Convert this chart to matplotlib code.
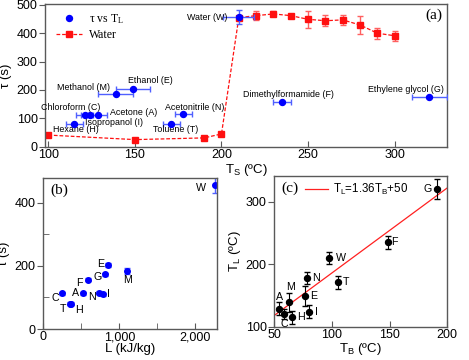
import numpy as np
import matplotlib
matplotlib.use('Agg')
import matplotlib.pyplot as plt
from matplotlib.ticker import FuncFormatter, MultipleLocator
from matplotlib.lines import Line2D

plt.rcParams['font.family'] = 'Liberation Sans'
plt.rcParams['mathtext.fontset'] = 'custom'
plt.rcParams['mathtext.rm'] = 'Liberation Serif'
plt.rcParams['mathtext.sf'] = 'Liberation Sans'

# ---- data ----
codes = ['H', 'C', 'I', 'A', 'M', 'E', 'T', 'N', 'W', 'F', 'G']
names = ['Hexane (H)', 'Chloroform (C)', 'Isopropanol (I)', 'Acetone (A)', 'Methanol (M)',
         'Ethanol (E)', 'Toluene (T)', 'Acetonitrile (N)', 'Water (W)',
         'Dimethylformamide (F)', 'Ethylene glycol (G)']
TL = [115, 121, 124, 129, 139, 149, 171, 178, 210, 235, 320]      # Leidenfrost temp (C)
TL_err_a = [5, 5, 5, 5, 10, 10, 5, 5, 9, 5, 10]
TL_err_c = [10, 8, 10, 10, 15, 16, 10, 10, 10, 10, 16]
tau = [80, 113, 110, 113, 185, 203, 80, 115, 456, 157, 174]        # lifetime (s)
tau_err = [5, 5, 5, 5, 10, 5, 5, 5, 25, 5, 5]
L = [365, 250, 779, 518, 1100, 849, 351, 728, 2257, 583, 806]      # latent heat (kJ/kg)
TB = [65.6, 58.7, 80.4, 54.3, 63, 76.6, 105.5, 78.6, 97.2, 148.4, 190.8]  # boiling temp (C)

# water vs surface temperature
Ts_w = [100, 150, 190, 200, 210, 220, 230, 240, 250, 260, 270, 280, 290, 300]
tau_w = [41, 25, 31, 45, 455, 462, 468, 462, 449, 444, 447, 429, 400, 391]
tau_w_err = [0, 0, 0, 0, 0, 17, 9, 5, 30, 20, 18, 30, 19, 18]

# linear fit T_L = 1.36 T_B + 50
fit_slope = 1.36
fit_icpt = 50
fit_x = np.array([45, 200])

# ---- label offsets (points) ----
off_a = {'H': (1.4, -4.3), 'C': (-10.3, 4.8), 'I': (17.1, -4.8), 'A': (25.2, 1.2),
         'M': (-23.2, 4.5), 'E': (12.6, 6), 'T': (3, -4.3), 'N': (8, 4.6),
         'W': (-22.5, 0), 'F': (4.7, 5.5), 'G': (-17, 5.5)}
off_b = {'H': (5.8, -4.3), 'C': (-5.3, -3.6), 'I': (4.5, 0), 'A': (-5, 0), 'M': (0.5, -7),
         'E': (-5.3, 0.7), 'T': (-4.8, -3.6), 'N': (-4.7, -3.2), 'W': (-9.8, -1.9),
         'F': (-6, -2.2), 'G': (-5.3, -2.4)}
off_c = {'H': (6, 0), 'C': (0, -7.2), 'I': (4.8, 0), 'A': (0, 8.4), 'M': (1, 11.1),
         'E': (6, 0), 'T': (5.5, 0), 'N': (6.3, 0), 'W': (8.9, 0), 'F': (4.8, 0), 'G': (-6.5, 0)}

spine_col = '0.35'
W, H = 469, 360
fig = plt.figure(figsize=(W / 100, H / 100), dpi=100)

def px_axes(x0, y0, x1, y1):
    return fig.add_axes([x0 / W, 1 - y1 / H, (x1 - x0) / W, (y1 - y0) / H])

def style(ax):
    for s in ax.spines.values():
        s.set_color(spine_col)
        s.set_linewidth(1.0)
    ax.tick_params(which='both', color=spine_col, labelsize=9, pad=1.5)
    ax.tick_params(axis='x', which='both', direction='in', length=4)
    ax.tick_params(axis='y', which='major', direction='out', length=4)
    ax.tick_params(axis='y', which='minor', direction='in', length=4)

# ---- panel (a) ----
ax1 = px_axes(45.3, 4, 446.7, 146.7)
style(ax1)
ax1.errorbar(Ts_w, tau_w, yerr=tau_w_err, fmt='s', color='#ff1010', ms=4.3,
             ecolor='#ff6060', elinewidth=1, capsize=2.4, ls=(0, (3, 1.5)), lw=0.9, zorder=2)
ax1.errorbar(TL, tau, xerr=TL_err_a, yerr=[0 if c != 'W' else e for c, e in zip(codes, tau_err)],
             fmt='o', color='#0000ff', ms=4.3, ecolor='#5060ff', elinewidth=1,
             capsize=2.4, ls='none', zorder=3)
for c, n, x, y in zip(codes, names, TL, tau):
    ax1.annotate(n, (x, y), xytext=off_a[c], textcoords='offset points',
                 ha='center', va='center', fontsize=6.4)
ax1.set_xlim(98.3, 330)
ax1.set_ylim(0, 503)
ax1.xaxis.set_major_locator(MultipleLocator(50))
ax1.yaxis.set_major_locator(MultipleLocator(100))
ax1.set_xlabel(r'$\mathsf{T_S}$ (ºC)', fontsize=9.5, labelpad=1)
ax1.set_ylabel('τ (s)', fontsize=9.5, labelpad=3)
ax1.text(0.967, 0.918, '(a)', transform=ax1.transAxes, ha='center', va='center',
         fontsize=11, family='Liberation Serif')
h1 = Line2D([], [], marker='o', color='#0000ff', ls='none', ms=4.3)
h2 = Line2D([], [], marker='s', color='#ff1010', ls=(0, (3, 1.5)), lw=0.9, ms=4.3)
ax1.legend([h1, h2], [r'τ vs $\mathrm{T_L}$', 'Water'], loc='upper left',
           bbox_to_anchor=(0.0, 1.02), frameon=False, handlelength=2.2,
           prop={'family': 'Liberation Serif', 'size': 8.5}, labelspacing=0.3,
           handletextpad=0.6)

# ---- panel (b) ----
ax2 = px_axes(43.3, 177.7, 216.7, 329)
style(ax2)
ax2.errorbar(L, tau, yerr=tau_err, fmt='o', color='#0000ff', ms=4, ecolor='#5060ff',
             elinewidth=1, capsize=2, ls='none')
for c, x, y in zip(codes, L, tau):
    ax2.annotate(c, (x, y), xytext=off_b[c], textcoords='offset points',
                 ha='center', va='center', fontsize=7.7)
ax2.set_xlim(0, 2280)
ax2.set_ylim(0, 480)
ax2.xaxis.set_major_locator(MultipleLocator(1000))
ax2.xaxis.set_minor_locator(MultipleLocator(500))
ax2.yaxis.set_major_locator(MultipleLocator(200))
ax2.yaxis.set_minor_locator(MultipleLocator(100))
ax2.xaxis.set_major_formatter(FuncFormatter(lambda v, p: '{:,.0f}'.format(v)))
ax2.set_xlabel('L (kJ/kg)', fontsize=9.5, labelpad=0)
ax2.set_ylabel('τ (s)', fontsize=9.5, labelpad=3)
ax2.text(0.092, 0.919, '(b)', transform=ax2.transAxes, ha='center', va='center',
         fontsize=11, family='Liberation Serif')

# ---- panel (c) ----
ax3 = px_axes(274.3, 176, 447.3, 326.7)
style(ax3)
ax3.plot(fit_x, fit_slope * fit_x + fit_icpt, color='#ff2020', lw=0.9,
         label=r'$\mathsf{T_L}$=1.36$\mathsf{T_B}$+50')
ax3.errorbar(TB, TL, yerr=TL_err_c, fmt='o', color='black', ms=4.3, ecolor='black',
             elinewidth=0.8, capsize=2.4, ls='none')
for c, x, y in zip(codes, TB, TL):
    ax3.annotate(c, (x, y), xytext=off_c[c], textcoords='offset points',
                 ha='center', va='center', fontsize=7.7)
ax3.set_xlim(50, 200)
ax3.set_ylim(100, 341)
ax3.xaxis.set_major_locator(MultipleLocator(50))
ax3.yaxis.set_major_locator(MultipleLocator(100))
ax3.set_xlabel(r'$\mathsf{T_B}$ (ºC)', fontsize=9.5, labelpad=0)
ax3.set_ylabel(r'$\mathsf{T_L}$ (ºC)', fontsize=9.5, labelpad=2)
ax3.text(0.091, 0.918, '(c)', transform=ax3.transAxes, ha='center', va='center',
         fontsize=11, family='Liberation Serif')
ax3.legend(loc='upper left', bbox_to_anchor=(0.12, 1.03), frameon=False,
           handlelength=2.0, fontsize=8.3, handletextpad=0.4)

fig.savefig('out.png', dpi=100)
